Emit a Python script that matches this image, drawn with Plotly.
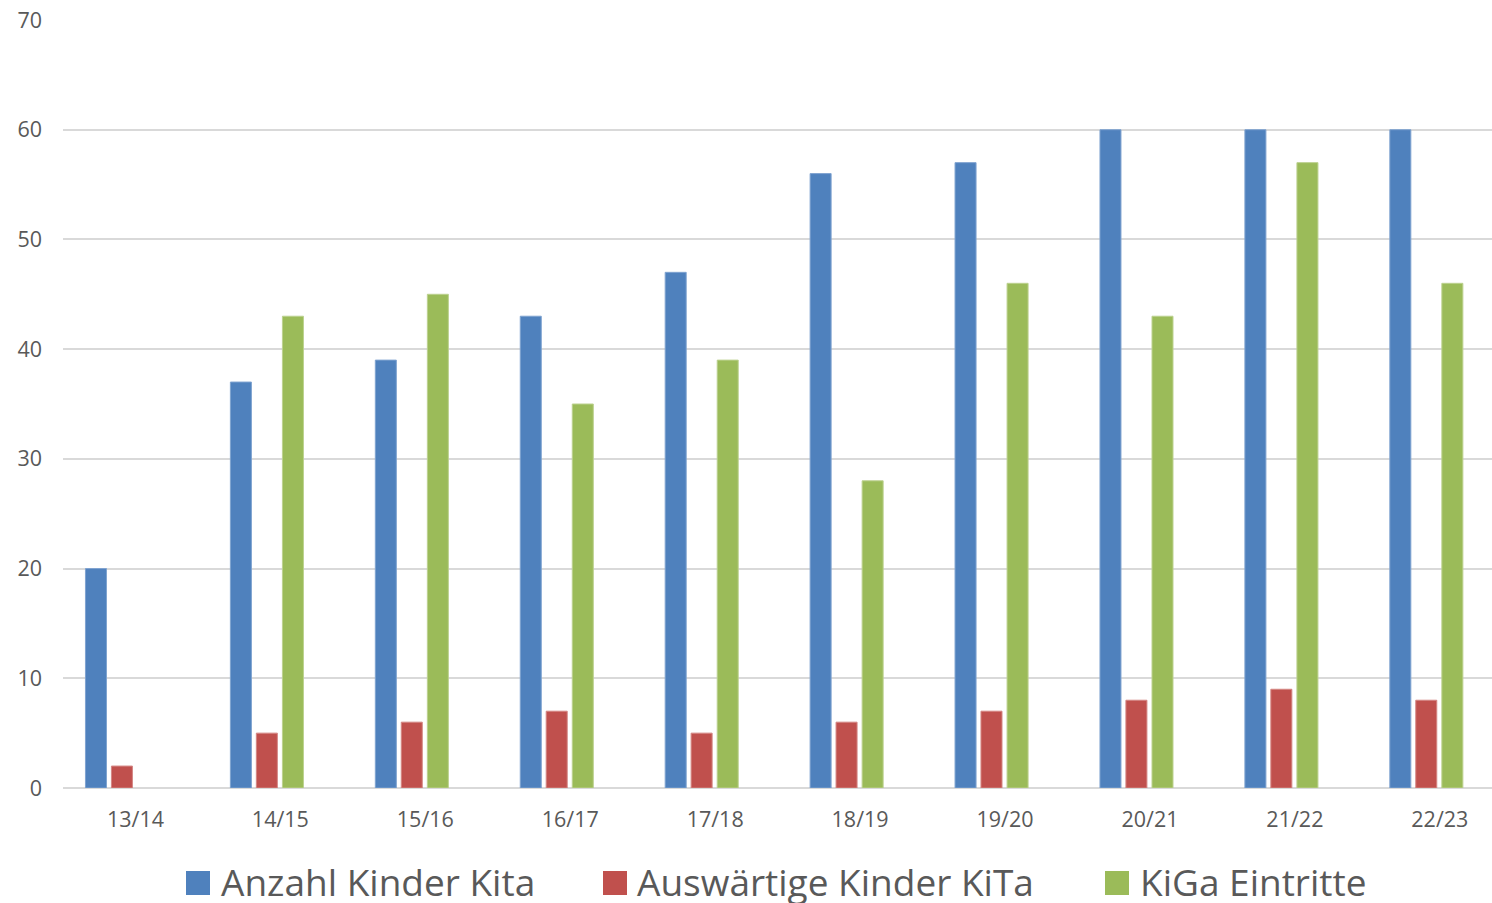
import plotly.graph_objects as go

# Kita statistics per school year
jahre = ["13/14", "14/15", "15/16", "16/17", "17/18", "18/19", "19/20", "20/21", "21/22", "22/23"]
anzahl_kinder_kita = [20, 37, 39, 43, 47, 56, 57, 60, 60, 60]
auswaertige_kinder_kita = [2, 5, 6, 7, 5, 6, 7, 8, 9, 8]
kiga_eintritte = [None, 43, 45, 35, 39, 28, 46, 43, 57, 46]

series = [
    ("Anzahl Kinder Kita", anzahl_kinder_kita, "#4F81BD", "#7FA3D0"),
    ("Auswärtige Kinder KiTa", auswaertige_kinder_kita, "#C0504D", "#D48683"),
    ("KiGa Eintritte", kiga_eintritte, "#9BBB59", "#BCD18F"),
]

# bar geometry in category units (4 slots per group, the last one empty)
BAR_W = 0.145
OFFSETS = [-0.345, -0.166, 0.014]

TEXT = "#595959"
FONT = "Open Sans"

fig = go.Figure()
for (name, vals, col, edge), off in zip(series, OFFSETS):
    fig.add_trace(go.Bar(
        x=jahre, y=vals, name=name,
        marker=dict(color=col, line=dict(color=edge, width=1)),
        width=BAR_W, offset=off, showlegend=False,
    ))

# legend below the plot: colour squares with labels
W_PLOT = 1429.0
H_PLOT = 768.0
def px_x(px):
    return (px - 63) / W_PLOT
def px_y(py):
    return (788 - py) / H_PLOT

legend_items = [(186, 219), (603, 635), (1105, 1138)]
shapes = []
annotations = []
for (name, _, col, _), (sq_x, tx_x) in zip(series, legend_items):
    shapes.append(dict(type="rect", xref="paper", yref="paper",
                       x0=px_x(sq_x), x1=px_x(sq_x + 24),
                       y0=px_y(895), y1=px_y(871),
                       fillcolor=col, line=dict(width=0)))
    annotations.append(dict(xref="paper", yref="paper", x=px_x(tx_x), y=px_y(881),
                            xanchor="left", yanchor="middle", showarrow=False,
                            text=name, font=dict(family=FONT, size=37, color=TEXT)))

fig.update_layout(
    width=1492, height=903,
    margin=dict(l=63, r=0, t=20, b=115),
    paper_bgcolor="white", plot_bgcolor="white",
    barmode="overlay",
    font=dict(family=FONT, size=22, color=TEXT),
    shapes=shapes, annotations=annotations,
    xaxis=dict(range=[-0.5, 9.36], showgrid=False, showline=False, zeroline=False,
               ticks="", tickfont=dict(family=FONT, size=21.5, color=TEXT),
               ticklabelstandoff=16, fixedrange=True),
    yaxis=dict(range=[0, 70], dtick=10, showgrid=True, gridcolor="#D9D9D9", gridwidth=1.5,
               zeroline=True, zerolinecolor="#D9D9D9", zerolinewidth=2,
               showline=False, ticks="", tickfont=dict(family=FONT, size=21.5, color=TEXT),
               ticklabelstandoff=20, fixedrange=True),
)

fig.write_html("out.html")
